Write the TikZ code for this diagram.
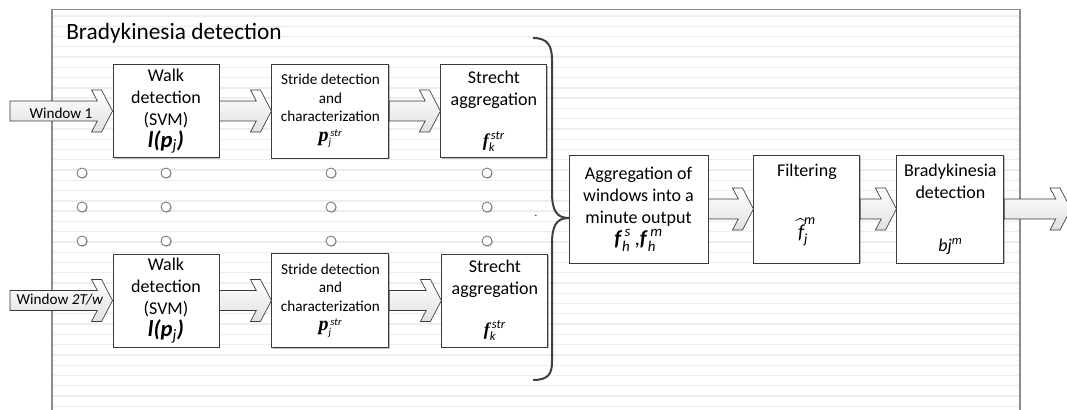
\documentclass[tikz,border=0pt]{standalone}
\usepackage{fontspec}
\setmainfont{Carlito}
\newfontfamily\serifp{Liberation Serif}
\usepackage{amsmath}
\usepackage{tikz}
\usetikzlibrary{positioning,calc,shadows}

\definecolor{framegray}{HTML}{8C8C8C}
\definecolor{stripe}{HTML}{EDEDED}
\definecolor{boxline}{HTML}{3A3A3A}
\definecolor{bracegray}{HTML}{404040}
\definecolor{dotline}{HTML}{6E6E6E}

% chevron-headed block arrow from #1 to #2
\newcommand{\blockarrow}[2]{%
  \path[blockarr] let \p1=(#1), \p2=(#2) in
    (\x1,{\y2+7.5pt}) -- ({\x2-11.4pt},{\y2+7.5pt}) -- ({\x2-15.75pt},{\y2+15.75pt})
    -- ({\x2-8.25pt},{\y2+15.75pt}) -- (\x2,\y2) -- ({\x2-8.25pt},{\y2-15.75pt})
    -- ({\x2-15.75pt},{\y2-15.75pt}) -- ({\x2-11.4pt},{\y2-7.5pt}) -- (\x1,{\y2-7.5pt}) -- cycle;}

\begin{document}
\begin{tikzpicture}[x=0.75pt, y=-0.75pt,
  every node/.style={font=\fontsize{13.5}{16.5}\selectfont},
  box/.style={draw=boxline, line width=0.7pt, fill=white, rectangle, align=center, inner sep=2pt,
    drop shadow={shadow xshift=1pt, shadow yshift=-1pt, opacity=0.25, fill=black}},
  walkbox/.style={box, minimum width=79.5pt, minimum height=69.75pt},
  stridebox/.style={box, minimum width=87.75pt, minimum height=70.5pt, font=\fontsize{11.4}{13.75}\selectfont},
  strechtbox/.style={box, minimum width=79.5pt, minimum height=69.75pt},
  minbox/.style={box, minimum height=81pt},
  gapdot/.style={draw=dotline, fill=white, circle, minimum size=7.5pt, inner sep=0pt, line width=0.6pt,
    drop shadow={shadow xshift=0.6pt, shadow yshift=-0.6pt, opacity=0.25, fill=black}},
  blockarr/.style={draw=boxline, line width=0.5pt, top color=white, bottom color=black!12},
  winlabel/.style={font=\fontsize{11.4}{13}\selectfont, inner sep=0pt},
  bgline/.style={draw=stripe, line width=1pt},
  brace/.style={draw=bracegray, line width=1.5pt}
]
\useasboundingbox (0,0) rectangle (1067,410);

% striped background and frame
\foreach \k in {0,...,38}
  \draw[bgline] (53,{16+10.27*\k}) -- (1019,{16+10.27*\k});
\draw[framegray, line width=1.2pt] (52,9.5) rectangle (1020,425);
\node[anchor=base west, font=\fontsize{17.5}{20}\selectfont, inner sep=0pt] (title) at (66,40) {Bradykinesia detection};

% upper window
\node[walkbox] (walk1) at (166,111) {Walk\\detection\\(SVM)\\{\fontsize{17}{20}\selectfont\bfseries\itshape l(p\textsubscript{\mdseries j})}};
\node[stridebox, right=39pt of walk1] (stride1) {Stride detection\\and\\characterization\\[1pt]{\fontsize{15}{16}\selectfont\serifp\bfseries\itshape p}$_{\textit{j}}^{\,\textit{str}}$};
\node[strechtbox, right=38.25pt of stride1] (strecht1) {Strecht\\aggregation\\[14pt]{\serifp\bfseries\itshape f}$_{\textit{k}}^{\,\textit{str}}$};

% lower window
\node[walkbox] (walk2) at (166,300.5) {Walk\\detection\\(SVM)\\{\fontsize{17}{20}\selectfont\bfseries\itshape l(p\textsubscript{\mdseries j})}};
\node[stridebox, right=39pt of walk2] (stride2) {Stride detection\\and\\characterization\\[1pt]{\fontsize{15}{16}\selectfont\serifp\bfseries\itshape p}$_{\textit{j}}^{\,\textit{str}}$};
\node[strechtbox, right=39pt of stride2] (strecht2) {Strecht\\aggregation\\[14pt]{\serifp\bfseries\itshape f}$_{\textit{k}}^{\,\textit{str}}$};

% the windows in between
\foreach \dx in {82,166,331,487}
  \foreach \dy in {173,207,241}
    \node[gapdot] (dot-\dx-\dy) at (\dx,\dy) {};
\node[anchor=base, inner sep=0pt, font=\fontsize{8}{8}\selectfont] (stray) at (536,216) {.};

% brace
\draw[brace] (533,38) .. controls (548,38) and (552,46) .. (552,60) -- (552,192)
  .. controls (552,210) and (556,218) .. (569,218)
  .. controls (556,218) and (552,226) .. (552,244) -- (552,362)
  .. controls (552,374) and (548,380) .. (533,380);

% minute level
\node[minbox, minimum width=104.25pt] (minagg) at (638.5,209) {Aggregation of\\windows into a\\minute output\\{\fontsize{16}{18}\selectfont\textbf{\textit{f}}$_{\textit{h}}^{\,\textit{s}}$\,,\textbf{\textit{f}}$_{\textit{h}}^{\,\textit{m}}$}};
\node[minbox, minimum width=79.5pt, right=33.75pt of minagg] (filter) {Filtering\\[28pt]{\fontsize{15}{16}\selectfont$\widehat{\textit{f}}_{\textit{j}}^{\textit{m}}$}\rule[-12pt]{0pt}{0pt}};
\node[minbox, minimum width=80.25pt, right=27pt of filter] (brady) {Bradykinesia\\detection\\[23pt]\textit{bj}$^{\textit{m}}$};

\coordinate (win1) at (10,112);
\coordinate (win2) at (10,300);
\coordinate (out) at (1071,209);

\blockarrow{win1}{walk1.west}
\blockarrow{walk1.east}{stride1.west}
\blockarrow{stride1.east}{strecht1.west}
\blockarrow{win2}{walk2.west}
\blockarrow{walk2.east}{stride2.west}
\blockarrow{stride2.east}{strecht2.west}
\blockarrow{minagg.east}{filter.west}
\blockarrow{filter.east}{brady.west}
\blockarrow{brady.east}{out}

\node[winlabel] (win1lab) at (61,113) {Window 1};
\node[winlabel] (win2lab) at (60,300) {Window \textit{2T/w}};
\end{tikzpicture}
\end{document}
